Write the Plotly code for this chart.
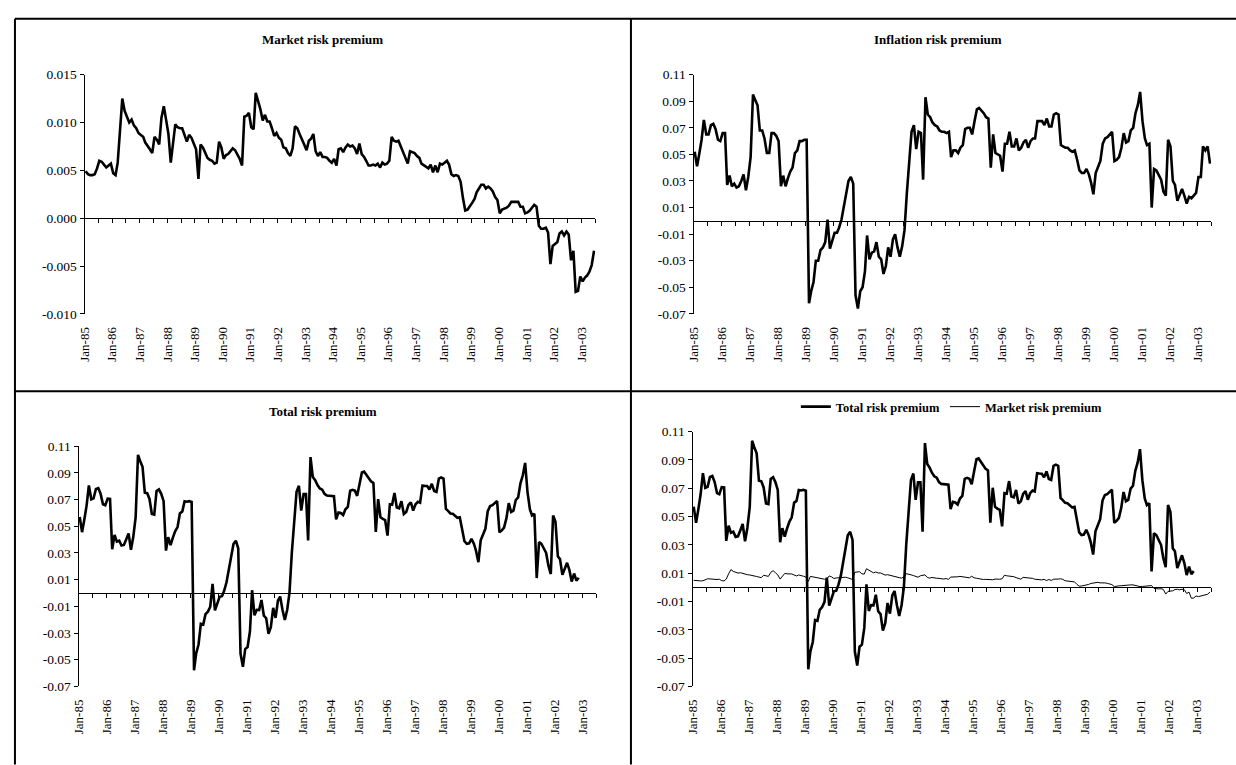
import pandas as pd
import plotly.graph_objects as go

# ---------------- data (monthly, Jan-85 ...) ----------------
market = [
    0.0049, 0.0046, 0.0045, 0.0045, 0.0046, 0.0052, 0.0060, 0.0059, 0.0056, 0.0053, 0.0055, 0.0057,
    0.0047, 0.0045, 0.0058, 0.0095, 0.0125, 0.0112, 0.0106, 0.0100, 0.0103, 0.0097, 0.0094, 0.0089,
    0.0087, 0.0085, 0.0079, 0.0076, 0.0072, 0.0068, 0.0085, 0.0082, 0.0077, 0.0105, 0.0117, 0.0103,
    0.0088, 0.0058, 0.0078, 0.0098, 0.0095, 0.0094, 0.0094, 0.0087, 0.0080, 0.0087, 0.0084, 0.0078,
    0.0072, 0.0041, 0.0077, 0.0074, 0.0069, 0.0063, 0.0061, 0.0060, 0.0057, 0.0058, 0.0080, 0.0074,
    0.0062, 0.0066, 0.0067, 0.0070, 0.0073, 0.0071, 0.0067, 0.0062, 0.0055, 0.0106, 0.0107, 0.0110,
    0.0095, 0.0093, 0.0131, 0.0123, 0.0114, 0.0102, 0.0108, 0.0101, 0.0101, 0.0094, 0.0086, 0.0089,
    0.0084, 0.0082, 0.0074, 0.0073, 0.0068, 0.0065, 0.0073, 0.0096, 0.0094, 0.0088, 0.0083, 0.0077,
    0.0071, 0.0081, 0.0083, 0.0088, 0.0070, 0.0065, 0.0069, 0.0064, 0.0064, 0.0063, 0.0060, 0.0058,
    0.0062, 0.0055, 0.0072, 0.0073, 0.0069, 0.0074, 0.0077, 0.0075, 0.0076, 0.0073, 0.0067, 0.0078,
    0.0067, 0.0064, 0.0060, 0.0055, 0.0055, 0.0056, 0.0055, 0.0057, 0.0053, 0.0058, 0.0056, 0.0057,
    0.0060, 0.0085, 0.0081, 0.0080, 0.0081, 0.0075, 0.0068, 0.0062, 0.0057, 0.0070, 0.0069, 0.0068,
    0.0065, 0.0063, 0.0057, 0.0055, 0.0053, 0.0052, 0.0056, 0.0048, 0.0055, 0.0048, 0.0057, 0.0056,
    0.0058, 0.0060, 0.0056, 0.0046, 0.0044, 0.0045, 0.0044, 0.0038, 0.0021, 0.0008, 0.0009, 0.0012,
    0.0016, 0.0020, 0.0027, 0.0031, 0.0035, 0.0035, 0.0031, 0.0033, 0.0031, 0.0028, 0.0022, 0.0019,
    0.0005, 0.0009, 0.0010, 0.0011, 0.0013, 0.0017, 0.0017, 0.0017, 0.0017, 0.0012, 0.0012, 0.0005,
    0.0006, 0.0008, 0.0011, 0.0014, 0.0012, -0.0008, -0.0011, -0.0011, -0.0010, -0.0015, -0.0048, -0.0029,
    -0.0027, -0.0025, -0.0016, -0.0014, -0.0018, -0.0014, -0.0017, -0.0044, -0.0034, -0.0077, -0.0076, -0.0061,
    -0.0066, -0.0062, -0.0060, -0.0056, -0.0049, -0.0034,
]

inflation = [
    0.052, 0.041, 0.050, 0.061, 0.076, 0.065, 0.065, 0.072, 0.073, 0.069, 0.061, 0.060,
    0.066, 0.066, 0.027, 0.034, 0.026, 0.028, 0.025, 0.026, 0.030, 0.035, 0.023, 0.033,
    0.048, 0.095, 0.091, 0.087, 0.068, 0.068, 0.062, 0.051, 0.051, 0.066, 0.066, 0.064,
    0.060, 0.026, 0.034, 0.026, 0.032, 0.037, 0.040, 0.051, 0.053, 0.060, 0.060, 0.061,
    0.061, -0.062, -0.053, -0.046, -0.030, -0.030, -0.022, -0.020, -0.016, 0.001, -0.021, -0.015,
    -0.009, -0.009, -0.005, 0.001, 0.011, 0.020, 0.030, 0.033, 0.028, -0.056, -0.066, -0.053,
    -0.050, -0.038, -0.011, -0.029, -0.024, -0.023, -0.016, -0.027, -0.029, -0.040, -0.034, -0.020,
    -0.027, -0.014, -0.010, -0.020, -0.027, -0.019, -0.007, 0.021, 0.045, 0.067, 0.072, 0.054,
    0.067, 0.066, 0.031, 0.093, 0.080, 0.078, 0.074, 0.072, 0.071, 0.068, 0.067, 0.067,
    0.066, 0.067, 0.048, 0.053, 0.053, 0.051, 0.055, 0.057, 0.069, 0.070, 0.070, 0.065,
    0.075, 0.084, 0.085, 0.083, 0.081, 0.078, 0.077, 0.040, 0.065, 0.051, 0.050, 0.049,
    0.037, 0.058, 0.058, 0.067, 0.056, 0.056, 0.062, 0.053, 0.055, 0.059, 0.061, 0.055,
    0.060, 0.062, 0.062, 0.075, 0.075, 0.075, 0.072, 0.077, 0.071, 0.071, 0.080, 0.081,
    0.080, 0.057, 0.056, 0.055, 0.055, 0.053, 0.052, 0.053, 0.046, 0.038, 0.036, 0.036,
    0.039, 0.035, 0.029, 0.020, 0.036, 0.040, 0.045, 0.058, 0.062, 0.063, 0.065, 0.067,
    0.045, 0.046, 0.048, 0.055, 0.066, 0.059, 0.060, 0.068, 0.070, 0.081, 0.087, 0.097,
    0.075, 0.062, 0.057, 0.058, 0.010, 0.039, 0.038, 0.035, 0.031, 0.022, 0.019, 0.061,
    0.056, 0.030, 0.027, 0.015, 0.020, 0.024, 0.019, 0.013, 0.018, 0.017, 0.019, 0.021,
    0.033, 0.033, 0.056, 0.053, 0.056, 0.043,
]

total = [
    0.0569, 0.0456, 0.0545, 0.0655, 0.0806, 0.0702, 0.0710, 0.0779, 0.0786, 0.0743, 0.0665, 0.0657,
    0.0707, 0.0705, 0.0328, 0.0435, 0.0385, 0.0392, 0.0356, 0.0360, 0.0403, 0.0447, 0.0324, 0.0419,
    0.0567, 0.1035, 0.0989, 0.0946, 0.0752, 0.0748, 0.0705, 0.0592, 0.0587, 0.0765, 0.0777, 0.0743,
    0.0688, 0.0318, 0.0418, 0.0358, 0.0415, 0.0464, 0.0494, 0.0597, 0.0610, 0.0687, 0.0684, 0.0688,
    0.0682, -0.0579, -0.0453, -0.0386, -0.0231, -0.0237, -0.0159, -0.0140, -0.0103, 0.0068, -0.0130, -0.0076,
    -0.0028, -0.0024, 0.0017, 0.0080, 0.0183, 0.0271, 0.0367, 0.0392, 0.0335, -0.0454, -0.0553, -0.0420,
    -0.0405, -0.0287, 0.0021, -0.0167, -0.0126, -0.0128, -0.0052, -0.0169, -0.0189, -0.0306, -0.0254, -0.0111,
    -0.0186, -0.0058, -0.0026, -0.0127, -0.0202, -0.0125, 0.0003, 0.0306, 0.0544, 0.0758, 0.0803, 0.0617,
    0.0741, 0.0741, 0.0393, 0.1018, 0.0870, 0.0845, 0.0809, 0.0784, 0.0774, 0.0743, 0.0730, 0.0728,
    0.0722, 0.0725, 0.0552, 0.0603, 0.0599, 0.0584, 0.0627, 0.0645, 0.0766, 0.0773, 0.0767, 0.0728,
    0.0817, 0.0904, 0.0910, 0.0885, 0.0865, 0.0836, 0.0825, 0.0457, 0.0703, 0.0568, 0.0556, 0.0547,
    0.0430, 0.0665, 0.0661, 0.0750, 0.0641, 0.0635, 0.0688, 0.0592, 0.0607, 0.0660, 0.0679, 0.0618,
    0.0665, 0.0683, 0.0677, 0.0805, 0.0803, 0.0802, 0.0776, 0.0818, 0.0765, 0.0758, 0.0857, 0.0866,
    0.0858, 0.0630, 0.0616, 0.0596, 0.0594, 0.0575, 0.0564, 0.0568, 0.0481, 0.0388, 0.0369, 0.0372,
    0.0406, 0.0370, 0.0317, 0.0231, 0.0395, 0.0435, 0.0481, 0.0613, 0.0651, 0.0658, 0.0672, 0.0689,
    0.0455, 0.0469, 0.0490, 0.0561, 0.0673, 0.0607, 0.0617, 0.0697, 0.0717, 0.0822, 0.0882, 0.0975,
    0.0756, 0.0628, 0.0581, 0.0594, 0.0112, 0.0382, 0.0369, 0.0339, 0.0300, 0.0205, 0.0142, 0.0581,
    0.0533, 0.0275, 0.0254, 0.0136, 0.0182, 0.0226, 0.0173, 0.0086, 0.0146, 0.0093, 0.0114,
]

titles = ["Market risk premium", "Inflation risk premium", "Total risk premium"]
legend_names = ["Total risk premium", "Market risk premium"]
small_ticks = [-0.010, -0.005, 0.000, 0.005, 0.010, 0.015]
big_ticks = [-0.07, -0.05, -0.03, -0.01, 0.01, 0.03, 0.05, 0.07, 0.09, 0.11]

months = pd.date_range("1985-01-01", periods=len(market), freq="MS") + pd.Timedelta(days=15)
X_RANGE = ["1985-01-01", "2003-07-01"]

# ---------------- layout helpers ----------------
W, H = 1236, 765
FONT = "Liberation Serif, Times New Roman, serif"


def fx(p):
    return p / W


def fy(p):
    return 1 - p / H


# pixel boxes of each plot area: (left, right, top, bottom)
boxes = [(77, 591, 69, 313), (690, 1211, 69, 313), (71, 592, 448, 693), (689, 1211, 433, 693)]
yticks = [small_ticks, big_ticks, big_ticks, big_ticks]
yfmt = ["{:.3f}", "{:.2f}", "{:.2f}", "{:.2f}"]

fig = go.Figure()

thick = dict(color="black", width=2.6)
thin = dict(color="black", width=1)

fig.add_trace(go.Scatter(x=months, y=market, mode="lines", line=thick, xaxis="x", yaxis="y",
                         showlegend=False, hoverinfo="skip"))
fig.add_trace(go.Scatter(x=months, y=inflation, mode="lines", line=thick, xaxis="x2", yaxis="y2",
                         showlegend=False, hoverinfo="skip"))
fig.add_trace(go.Scatter(x=months[:len(total)], y=total, mode="lines", line=thick, xaxis="x3", yaxis="y3",
                         showlegend=False, hoverinfo="skip"))
fig.add_trace(go.Scatter(x=months[:len(total)], y=total, mode="lines", line=thick, xaxis="x4", yaxis="y4",
                         name=legend_names[0], hoverinfo="skip"))
fig.add_trace(go.Scatter(x=months, y=market, mode="lines", line=thin, xaxis="x4", yaxis="y4",
                         name=legend_names[1], hoverinfo="skip"))

layout = {}
for i, (l, r, t, b) in enumerate(boxes):
    k = "" if i == 0 else str(i + 1)
    ticks = yticks[i]
    ymin, ymax = ticks[0], ticks[-1]
    ydom = [fy(b), fy(t)]
    layout["xaxis" + k] = dict(
        domain=[fx(l), fx(r)], anchor="y" + k, range=X_RANGE, type="date",
        tickmode="linear", tick0="1985-01-01", dtick="M12", tickformat="%b-%y",
        tickangle=-90, ticks="outside", ticklen=7, tickcolor="rgba(0,0,0,0)",
        showline=False, showgrid=False, zeroline=False,
        tickfont=dict(family=FONT, size=13, color="black"),
    )
    layout["yaxis" + k] = dict(
        domain=ydom, anchor="x" + k, range=[ymin, ymax],
        tickmode="array", tickvals=ticks, ticktext=[yfmt[i].format(v) for v in ticks],
        showline=True, linecolor="black", linewidth=1, ticks="outside", ticklen=4,
        tickcolor="black", showgrid=False, zeroline=False,
        tickfont=dict(family=FONT, size=13.5, color="black"),
    )
    # axis drawn through zero with half-year tick marks
    zpos = ydom[0] + (0 - ymin) / (ymax - ymin) * (ydom[1] - ydom[0])
    kk = str(i + 5)
    layout["xaxis" + kk] = dict(
        overlaying="x" + k, anchor="free", position=zpos, range=X_RANGE, type="date",
        tickmode="linear", tick0="1985-01-01", dtick="M6", showticklabels=False,
        ticks="outside", ticklen=4, tickcolor="black", showline=True, linecolor="black",
        linewidth=1, showgrid=False, zeroline=False,
    )
    fig.add_trace(go.Scatter(x=[months[0]], y=[None], xaxis="x" + kk, yaxis="y" + k,
                             showlegend=False, hoverinfo="skip", mode="lines"))

fig.update_layout(**layout)

title_pos = [(317, 33), (936, 33), (317, 413)]
for txt, (px, py) in zip(titles, title_pos):
    fig.add_annotation(x=fx(px), y=fy(py), xref="paper", yref="paper", text=txt, showarrow=False,
                       xanchor="center", yanchor="middle",
                       font=dict(family=FONT, size=13, color="black", weight="bold"))

# panel borders
border = dict(color="black", width=2)
fig.add_shape(type="line", xref="paper", yref="paper", x0=fx(7), x1=1.01, y0=fy(12), y1=fy(12), line=border)
fig.add_shape(type="line", xref="paper", yref="paper", x0=fx(7), x1=fx(7), y0=fy(12), y1=-0.01, line=border)
fig.add_shape(type="line", xref="paper", yref="paper", x0=fx(627), x1=fx(627), y0=fy(12), y1=-0.01, line=border)
fig.add_shape(type="line", xref="paper", yref="paper", x0=fx(7), x1=1.01, y0=fy(392), y1=fy(392), line=border)

fig.update_layout(
    width=W, height=H, autosize=False,
    margin=dict(l=0, r=0, t=0, b=0),
    paper_bgcolor="white", plot_bgcolor="white",
    showlegend=True,
    legend=dict(orientation="h", x=fx(950), xanchor="center", y=fy(408), yanchor="middle",
                font=dict(family=FONT, size=12.5, color="black", weight="bold"),
                itemwidth=30, bgcolor="rgba(0,0,0,0)", tracegroupgap=0),
)

post = (
    "document.documentElement.style.margin='0px';"
    "document.body.style.margin='0px';document.body.style.padding='0px';"
    "var d=document.getElementById('{plot_id}');"
    "d.style.position='absolute';d.style.left='0px';d.style.top='0px';"
)
fig.write_html("out.html", post_script=post, config={"displayModeBar": False})
